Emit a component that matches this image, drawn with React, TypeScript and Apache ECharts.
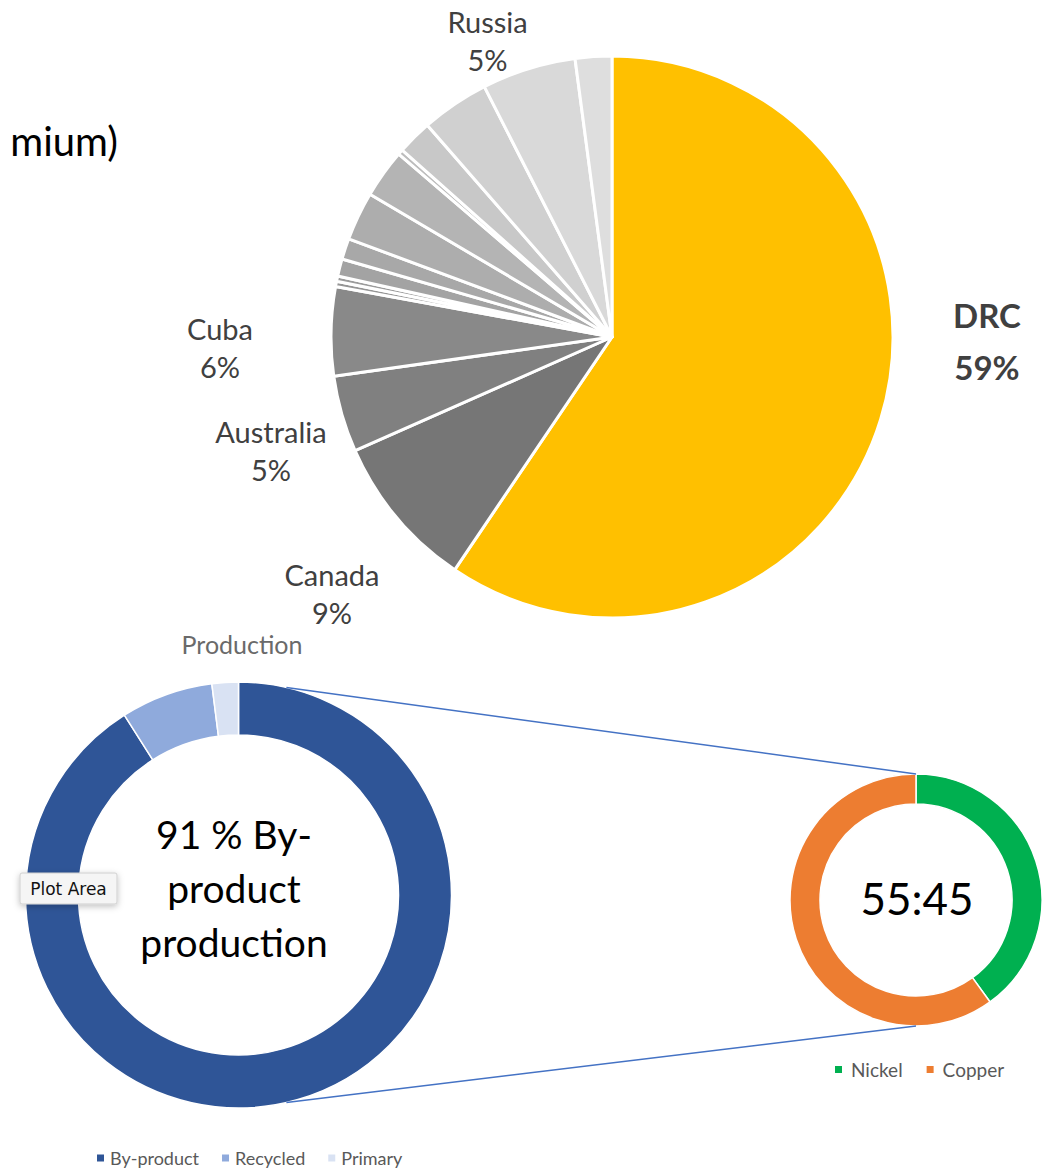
import React, { useEffect, useRef } from "react";
import * as echarts from "echarts";

// ---- Data ----
const topNames = [
  "DRC", "Canada", "Australia", "Cuba",
  "Other 1", "Other 2", "Other 3", "Other 4", "Other 5", "Other 6",
  "Other 7", "Other 8", "Other 9", "Russia", "Other 10",
];
const topValues = [59.4, 8.9, 4.4, 5.1, 0.3, 0.3, 1.0, 1.2, 2.8, 2.8, 0.3, 2.0, 3.9, 5.4, 2.1];
const topPctLabels = ["59%", "9%", "5%", "6%", "", "", "", "", "", "", "", "", "", "5%", ""];
const topColors = [
  "#FFC000", "#767676", "#808080", "#898989",
  "#959595", "#9b9b9b", "#a3a3a3", "#a8a8a8", "#adadad", "#b4b4b4",
  "#bdbdbd", "#c8c8c8", "#d0d0d0", "#d9d9d9", "#dedede",
];

const productionNames = ["By-product", "Recycled", "Primary"];
const productionValues = [91, 7, 2];
const productionColors = ["#2F5597", "#8FAADC", "#D9E2F3"];

const metalNames = ["Nickel", "Copper"];
const metalValues = [40, 60];
const metalColors = ["#00B050", "#ED7D31"];

const titleFragment = "mium)";
const productionTitle = "Production";
const productionCenterText = "91 % By-\nproduct\nproduction";
const ratioText = "55:45";
const plotAreaText = "Plot Area";

// ---- Layout ----
const FONT = "Lato, 'Open Sans', sans-serif";
const topCenter = [612, 337];
const topRadius = 281;
const blueCenter = [238.5, 895];
const blueRadius = [160, 213];
const greenCenter = [916, 900];
const greenRadius = [96, 126];
const connectorAngle = (13 * Math.PI) / 180;

const topLabelPos: Record<number, [number, number]> = {
  0: [987, 341],
  1: [332, 593],
  2: [271, 450],
  3: [220, 347],
  13: [487.5, 40],
};

export default function App() {
  const ref = useRef<HTMLDivElement>(null);

  useEffect(() => {
    if (!ref.current) return;
    const chart = echarts.init(ref.current, undefined, { renderer: "svg" });

    const topData = topNames.map((name, i) => {
      const item: any = {
        name,
        value: topValues[i],
        itemStyle: { color: topColors[i] },
      };
      if (i === 0) {
        item.label = { fontWeight: "bold", fontSize: 33, lineHeight: 52 };
      }
      return item;
    });

    const blueOuterX = blueCenter[0] + blueRadius[1] * Math.sin(connectorAngle);
    const blueTopY = blueCenter[1] - blueRadius[1] * Math.cos(connectorAngle);
    const blueBotY = blueCenter[1] + blueRadius[1] * Math.cos(connectorAngle);
    const greenTopY = greenCenter[1] - greenRadius[1];
    const greenBotY = greenCenter[1] + greenRadius[1];

    const option: any = {
      animation: false,
      backgroundColor: "#ffffff",
      legend: [
        {
          data: productionNames,
          left: 95,
          top: 1149,
          padding: 0,
          orient: "horizontal",
          icon: "rect",
          itemWidth: 9,
          itemHeight: 9,
          itemGap: 21,
          selectedMode: false,
          textStyle: { color: "#595959", fontSize: 18, fontFamily: FONT },
        },
        {
          data: metalNames,
          left: 833,
          top: 1060,
          padding: 0,
          orient: "horizontal",
          icon: "rect",
          itemWidth: 9,
          itemHeight: 9,
          itemGap: 22,
          selectedMode: false,
          textStyle: { color: "#595959", fontSize: 19, fontFamily: FONT, padding: [0, 0, 0, 3] },
        },
      ],
      series: [
        {
          type: "pie",
          center: topCenter,
          radius: [0, topRadius],
          startAngle: 90,
          clockwise: true,
          avoidLabelOverlap: false,
          silent: true,
          itemStyle: { borderColor: "#ffffff", borderWidth: 3 },
          label: {
            show: true,
            position: "outside",
            color: "#404040",
            fontFamily: FONT,
            fontSize: 29,
            lineHeight: 38,
            formatter: (p: any) =>
              topPctLabels[p.dataIndex] ? `${p.name}\n${topPctLabels[p.dataIndex]}` : "",
          },
          labelLine: { show: false },
          labelLayout: (params: any) => {
            const pos = topLabelPos[params.dataIndex];
            if (!pos) return {};
            return { x: pos[0], y: pos[1], align: "center", verticalAlign: "middle" };
          },
          data: topData,
        },
        {
          type: "pie",
          center: blueCenter,
          radius: blueRadius,
          startAngle: 90,
          clockwise: true,
          silent: true,
          label: { show: false },
          labelLine: { show: false },
          itemStyle: { borderColor: "#ffffff", borderWidth: 1.5 },
          data: productionNames.map((name, i) => ({
            name,
            value: productionValues[i],
            itemStyle: { color: productionColors[i] },
          })),
        },
        {
          type: "pie",
          center: greenCenter,
          radius: greenRadius,
          startAngle: 90,
          clockwise: true,
          silent: true,
          label: { show: false },
          labelLine: { show: false },
          itemStyle: { borderColor: "#ffffff", borderWidth: 1.5 },
          data: metalNames.map((name, i) => ({
            name,
            value: metalValues[i],
            itemStyle: { color: metalColors[i] },
          })),
        },
      ],
      graphic: [
        {
          type: "text",
          x: 118,
          y: 141,
          style: {
            text: titleFragment,
            fill: "#000000",
            font: `40px ${FONT}`,
            align: "right",
            verticalAlign: "middle",
          },
        },
        {
          type: "text",
          x: 242,
          y: 644,
          style: {
            text: productionTitle,
            fill: "#6a6a6a",
            font: `25px ${FONT}`,
            align: "center",
            verticalAlign: "middle",
          },
        },
        {
          type: "text",
          x: 234,
          y: 888,
          style: {
            text: productionCenterText,
            fill: "#000000",
            font: `39px ${FONT}`,
            lineHeight: 54,
            align: "center",
            verticalAlign: "middle",
          },
        },
        {
          type: "text",
          x: 917,
          y: 898,
          style: {
            text: ratioText,
            fill: "#000000",
            font: `44px ${FONT}`,
            align: "center",
            verticalAlign: "middle",
          },
        },
        {
          type: "line",
          shape: { x1: blueOuterX, y1: blueTopY, x2: greenCenter[0], y2: greenTopY },
          style: { stroke: "#4472C4", lineWidth: 1.5 },
          z: 10,
        },
        {
          type: "line",
          shape: { x1: blueOuterX, y1: blueBotY, x2: greenCenter[0], y2: greenBotY },
          style: { stroke: "#4472C4", lineWidth: 1.5 },
          z: 10,
        },
        {
          type: "rect",
          x: 20,
          y: 873,
          z: 100,
          shape: { x: 0, y: 0, width: 97, height: 31, r: 2 },
          style: {
            fill: "#f5f5f5",
            stroke: "#cfcfcf",
            lineWidth: 1,
            shadowBlur: 6,
            shadowColor: "rgba(0,0,0,0.25)",
            shadowOffsetY: 2,
          },
        },
        {
          type: "text",
          x: 68.5,
          y: 889,
          z: 101,
          style: {
            text: plotAreaText,
            fill: "#111111",
            font: "17px 'DejaVu Sans', sans-serif",
            align: "center",
            verticalAlign: "middle",
          },
        },
      ],
    };

    chart.setOption(option);
    return () => chart.dispose();
  }, []);

  return (
    <div
      ref={ref}
      style={{ position: "absolute", left: 0, top: 0, width: 1053, height: 1168 }}
    />
  );
}
